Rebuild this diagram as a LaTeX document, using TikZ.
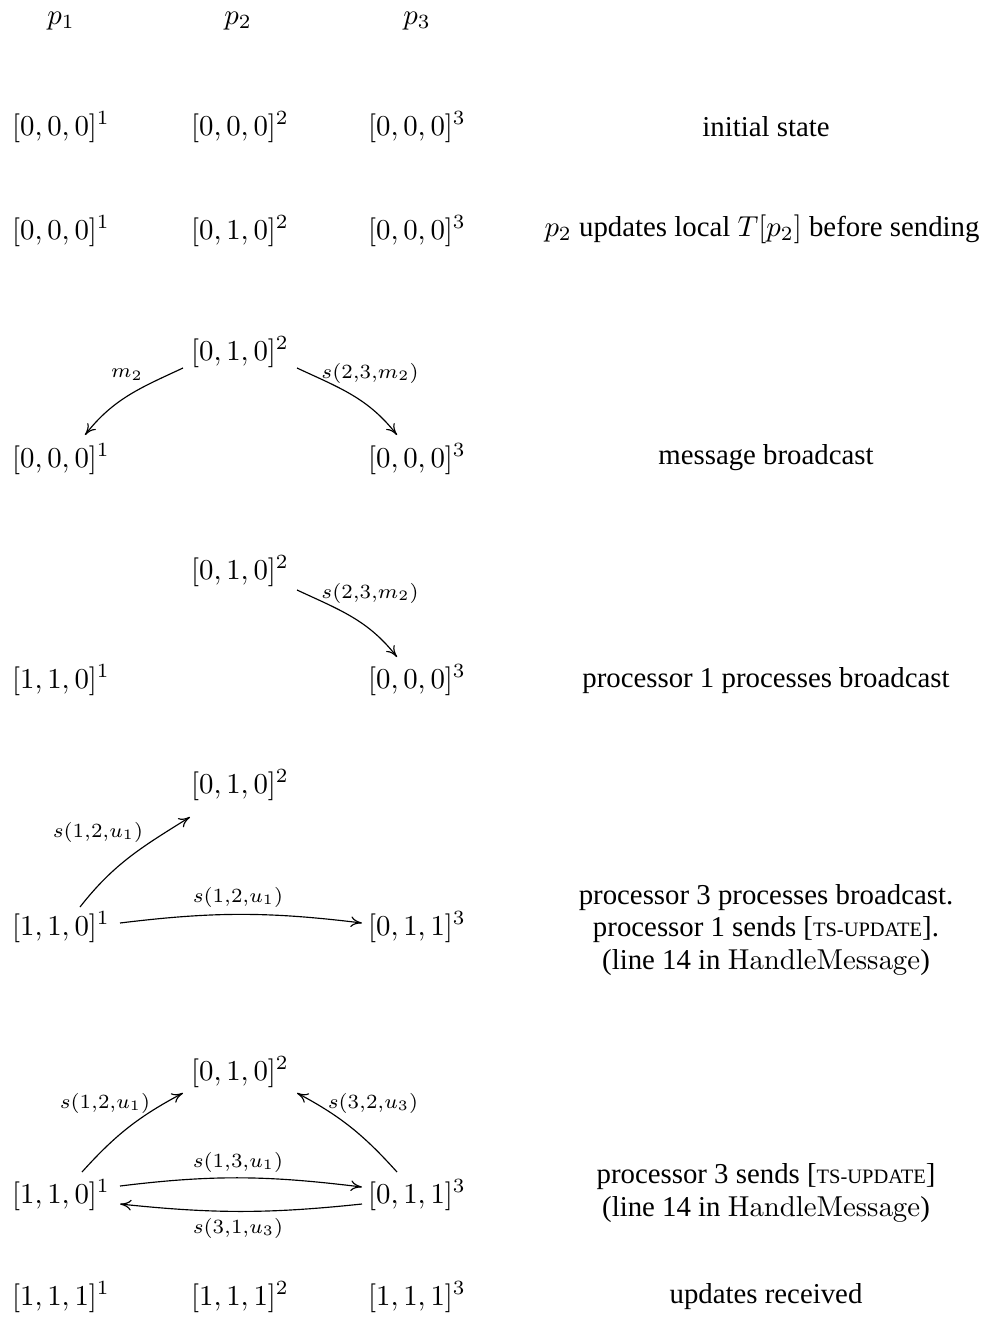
\documentclass[tikz,border=0pt]{standalone}
\usepackage[no-math]{fontspec}
\setmainfont{Liberation Serif}
\usetikzlibrary{arrows.meta}
\newcommand{\tsupd}{{\fontsize{7.1}{9}\selectfont TS-UPDATE}}
\begin{document}
\begin{tikzpicture}[x=0.347pt, y=0.347pt,
  st/.style={inner sep=0pt},
  txt/.style={inner sep=0pt, align=center, font=\fontsize{10}{11.3}\selectfont},
  lab/.style={inner sep=0pt},
  arr/.style={-{Computer Modern Rightarrow[length=3.9pt, width=3.7pt]}, line width=0.4pt}]
\useasboundingbox (0,0) rectangle (989,-1336);

% process names
\node[st] (p1) at (61,-21) {$p_1$};
\node[st] (p2) at (238,-21) {$p_2$};
\node[st] (p3) at (417,-21) {$p_3$};

% initial state
\node[st] (n11) at (61,-127) {$[0,0,0]^1$};
\node[st] (n12) at (240,-127) {$[0,0,0]^2$};
\node[st] (n13) at (417,-127) {$[0,0,0]^3$};
\node[txt] (t1) at (766,-127) {initial state};

% local update
\node[st] (n21) at (61,-231) {$[0,0,0]^1$};
\node[st] (n22) at (240,-231) {$[0,1,0]^2$};
\node[st] (n23) at (417,-231) {$[0,0,0]^3$};
\node[txt] (t2) at (762,-229) {$p_2$ updates local $T[p_2]$ before sending};

% broadcast
\node[st] (n32) at (240,-352) {$[0,1,0]^2$};
\node[st] (n31) at (61,-459) {$[0,0,0]^1$};
\node[st] (n33) at (417,-459) {$[0,0,0]^3$};
\node[txt] (t3) at (766,-458) {message broadcast};
\draw[arr] ([shift={(-57,-16)}]n32.center) to[out=205,in=52] ([shift={(24,24)}]n31.center);
\draw[arr] ([shift={(57,-16)}]n32.center) to[out=-25,in=128] ([shift={(-20,24)}]n33.center);
\node[lab] (l31) at (127,-375) {$\scriptstyle m_2$};
\node[lab] (l32) at (370,-373) {$\scriptstyle s(2,3,m_2)$};

% processor 1 receives
\node[st] (n42) at (240,-571) {$[0,1,0]^2$};
\node[st] (n41) at (61,-680) {$[1,1,0]^1$};
\node[st] (n43) at (417,-680) {$[0,0,0]^3$};
\node[txt] (t4) at (766,-681) {processor 1 processes broadcast};
\draw[arr] ([shift={(57,-19)}]n42.center) to[out=-25,in=128] ([shift={(-20,23)}]n43.center);
\node[lab] (l42) at (370,-593) {$\scriptstyle s(2,3,m_2)$};

% processor 1 sends updates
\node[st] (n52) at (240,-785) {$[0,1,0]^2$};
\node[st] (n51) at (61,-927) {$[1,1,0]^1$};
\node[st] (n53) at (417,-927) {$[0,1,1]^3$};
\node[txt] (t5) at (766,-930) {processor 3 processes broadcast.\\processor 1 sends [\tsupd].\\(line 14 in $\mathrm{HandleMessage}$)};
\draw[arr] ([shift={(19,20)}]n51.center) to[out=52,in=212] ([shift={(-50,-32)}]n52.center);
\draw[arr] ([shift={(59,4)}]n51.center) to[out=7,in=173] ([shift={(-55,4)}]n53.center);
\node[lab] (l51) at (98,-832) {$\scriptstyle s(1,2,u_1)$};
\node[lab] (l52) at (238,-897) {$\scriptstyle s(1,2,u_1)$};

% processor 3 sends updates
\node[st] (n62) at (240,-1072) {$[0,1,0]^2$};
\node[st] (n61) at (61,-1195) {$[1,1,0]^1$};
\node[st] (n63) at (417,-1195) {$[0,1,1]^3$};
\node[txt] (t6) at (766,-1193) {processor 3 sends [\tsupd]\\(line 14 in $\mathrm{HandleMessage}$)};
\draw[arr] ([shift={(21,23)}]n61.center) to[out=48,in=208] ([shift={(-57,-21)}]n62.center);
\draw[arr] ([shift={(-20,23)}]n63.center) to[out=132,in=-28] ([shift={(57,-21)}]n62.center);
\draw[arr] ([shift={(59,9)}]n61.center) to[out=7,in=173] ([shift={(-55,8)}]n63.center);
\draw[arr] ([shift={(-55,-9)}]n63.center) to[out=186,in=-6] ([shift={(59,-9)}]n61.center);
\node[lab] (l61) at (105,-1103) {$\scriptstyle s(1,2,u_1)$};
\node[lab] (l62) at (373,-1103) {$\scriptstyle s(3,2,u_3)$};
\node[lab] (l63) at (238,-1162) {$\scriptstyle s(1,3,u_1)$};
\node[lab] (l64) at (238,-1228) {$\scriptstyle s(3,1,u_3)$};

% final state
\node[st] (n71) at (61,-1297) {$[1,1,1]^1$};
\node[st] (n72) at (240,-1297) {$[1,1,1]^2$};
\node[st] (n73) at (417,-1297) {$[1,1,1]^3$};
\node[txt] (t7) at (766,-1297) {updates received};
\end{tikzpicture}
\end{document}
